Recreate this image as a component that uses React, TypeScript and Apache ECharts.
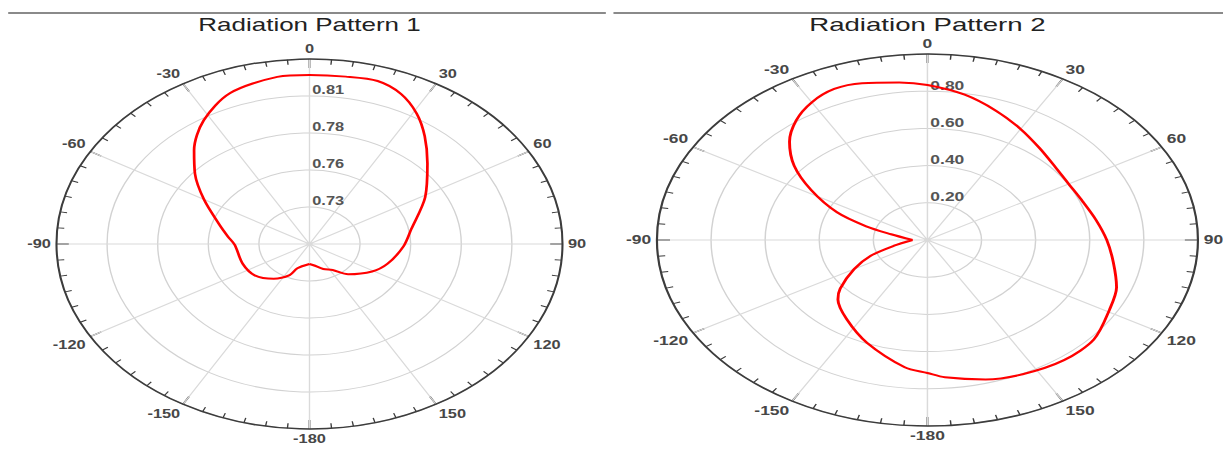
import React, { useEffect, useRef } from "react";
import * as echarts from "echarts";

// ---- data ----
const angleTickLabels = [0, 30, 60, 90, 120, 150, -180, -150, -120, -90, -60, -30];

const pattern1Title = "Radiation Pattern 1";
const pattern1Angles = [-180, -160, -155, -143, -128, -112, -91, -83, -73, -60, -50, -42, -32, -21, -8, 0, 9, 17, 24, 31, 38, 47, 61, 79, 92, 109, 121, 137, 147, 158, 172, 180];
const pattern1Values = [0.7187, 0.7228, 0.7288, 0.7353, 0.7405, 0.7418, 0.7432, 0.747, 0.7536, 0.7676, 0.7819, 0.7938, 0.8078, 0.819, 0.824, 0.8242, 0.8245, 0.8252, 0.8209, 0.8123, 0.8014, 0.788, 0.773, 0.7581, 0.7532, 0.7473, 0.7423, 0.7338, 0.7265, 0.7236, 0.7197, 0.7187];
const pattern1RadiusMin = 0.7045;
const pattern1RadiusStep = 0.0262;
const pattern1StartAngle = -180;

const pattern2Title = "Radiation Pattern 2";
const pattern2Angles = [-180, -173, -158, -145, -134, -129, -120, -112, -104, -90, -77, -72, -66, -58, -51, -44, -37, -30, -23, -16, -7, 0, 10, 20, 30, 40, 50, 60, 70, 80, 90, 100, 110, 119, 131, 142, 154, 164, 175, 180];
const pattern2Values = [0.715, 0.689, 0.596, 0.52, 0.46, 0.415, 0.313, 0.226, 0.127, 0.055, 0.138, 0.238, 0.366, 0.507, 0.634, 0.734, 0.806, 0.855, 0.882, 0.877, 0.853, 0.833, 0.793, 0.74, 0.689, 0.645, 0.615, 0.603, 0.61, 0.632, 0.663, 0.698, 0.744, 0.77, 0.815, 0.82, 0.803, 0.78, 0.741, 0.715];
const pattern2RadiusMin = 0;
const pattern2RadiusStep = 0.2;
const pattern2StartAngle = -90; // the line starts and ends at the cusp

const FONT = "'Liberation Sans', Arial, sans-serif";

function angleLabel(v: number): string {
  if (v >= 360) return "";
  const idx = Math.round(v / 30);
  return String(angleTickLabels[idx] ?? "");
}

// ordered [radius, angle(0..360)] pairs, starting at the given angle and going once round
function buildData(angles: number[], values: number[], start: number) {
  const n = angles.length;
  const k = Math.max(0, angles.indexOf(start));
  const order: number[] = [];
  for (let i = k; i < n; i++) order.push(i);
  for (let i = 1; i <= k; i++) order.push(i);
  return order.map((i) => {
    const a = angles[i];
    return [values[i], a < 0 ? a + 360 : a];
  });
}

function buildOption(cfg: {
  title: string;
  angles: number[];
  values: number[];
  start: number;
  rMin: number;
  rStep: number;
  cx: number;
  cy: number;
  R: number;
  lineX1: number;
  lineX2: number;
}) {
  const rMax = cfg.rMin + cfg.rStep * 5;
  const data = buildData(cfg.angles, cfg.values, cfg.start);
  return {
    animation: false,
    textStyle: { fontFamily: FONT },
    title: {
      text: cfg.title,
      left: cfg.cx,
      top: 15,
      padding: 0,
      textAlign: "center",
      textStyle: { fontFamily: FONT, fontSize: 19, fontWeight: "normal", color: "#222" },
    },
    graphic: [
      {
        type: "line",
        shape: { x1: cfg.lineX1, y1: 13, x2: cfg.lineX2, y2: 13 },
        style: { stroke: "#8a8a8a", lineWidth: 2 },
      },
    ],
    polar: { center: [cfg.cx, cfg.cy], radius: cfg.R },
    angleAxis: {
      type: "value",
      min: 0,
      max: 360,
      interval: 30,
      startAngle: 90,
      clockwise: true,
      axisLine: { show: true, lineStyle: { color: "#3c3c3c", width: 1.5 } },
      axisTick: { show: true, inside: true, length: 9, lineStyle: { color: "#3c3c3c", width: 1.3 } },
      minorTick: { show: true, splitNumber: 6, length: 5, lineStyle: { color: "#3c3c3c", width: 1 } },
      axisLabel: {
        margin: 4,
        color: "#474747",
        fontSize: 12,
        fontWeight: "bold",
        fontFamily: FONT,
        formatter: (v: number) => angleLabel(v),
      },
      splitLine: { show: true, lineStyle: { color: "#dadada", width: 1 } },
    },
    radiusAxis: {
      type: "value",
      min: cfg.rMin,
      max: rMax,
      interval: cfg.rStep,
      axisLine: { show: false },
      axisTick: { show: false },
      axisLabel: {
        margin: -2,
        align: "left",
        verticalAlign: "bottom",
        color: "#555",
        fontSize: 12,
        fontWeight: "bold",
        fontFamily: FONT,
        formatter: (v: number) =>
          Math.abs(v - cfg.rMin) < 1e-6 || Math.abs(v - rMax) < 1e-6 ? "" : v.toFixed(2),
      },
      splitLine: { show: true, lineStyle: { color: "#d2d2d2", width: 1 } },
    },
    series: [
      {
        type: "line",
        coordinateSystem: "polar",
        data,
        showSymbol: false,
        smooth: 0.3,
        lineStyle: { color: "#ff0000", width: 2 },
      },
    ],
  };
}

const S1 = 1.3676;
const S2 = 1.4543;
const W1 = 448;
const W2 = 421;

export default function App() {
  const ref1 = useRef<HTMLDivElement>(null);
  const ref2 = useRef<HTMLDivElement>(null);

  useEffect(() => {
    document.body.style.margin = "0";
    document.body.style.background = "#fff";
    const c1 = echarts.init(ref1.current!, undefined, { renderer: "svg" });
    const c2 = echarts.init(ref2.current!, undefined, { renderer: "svg" });
    c1.setOption(
      buildOption({
        title: pattern1Title,
        angles: pattern1Angles,
        values: pattern1Values,
        start: pattern1StartAngle,
        rMin: pattern1RadiusMin,
        rStep: pattern1RadiusStep,
        cx: 226.3,
        cy: 244,
        R: 185,
        lineX1: 6,
        lineX2: 443,
      })
    );
    c2.setOption(
      buildOption({
        title: pattern2Title,
        angles: pattern2Angles,
        values: pattern2Values,
        start: pattern2StartAngle,
        rMin: pattern2RadiusMin,
        rStep: pattern2RadiusStep,
        cx: 216.9,
        cy: 240,
        R: 186,
        lineX1: 1,
        lineX2: 421,
      })
    );
    return () => {
      c1.dispose();
      c2.dispose();
    };
  }, []);

  return (
    <div style={{ position: "relative", width: 1223, height: 450, overflow: "hidden", background: "#fff" }}>
      <div
        ref={ref1}
        style={{ position: "absolute", left: 0, top: 0, width: W1, height: 450, transform: `scaleX(${S1})`, transformOrigin: "0 0" }}
      />
      <div
        ref={ref2}
        style={{ position: "absolute", left: 612, top: 0, width: W2, height: 450, transform: `scaleX(${S2})`, transformOrigin: "0 0" }}
      />
    </div>
  );
}
